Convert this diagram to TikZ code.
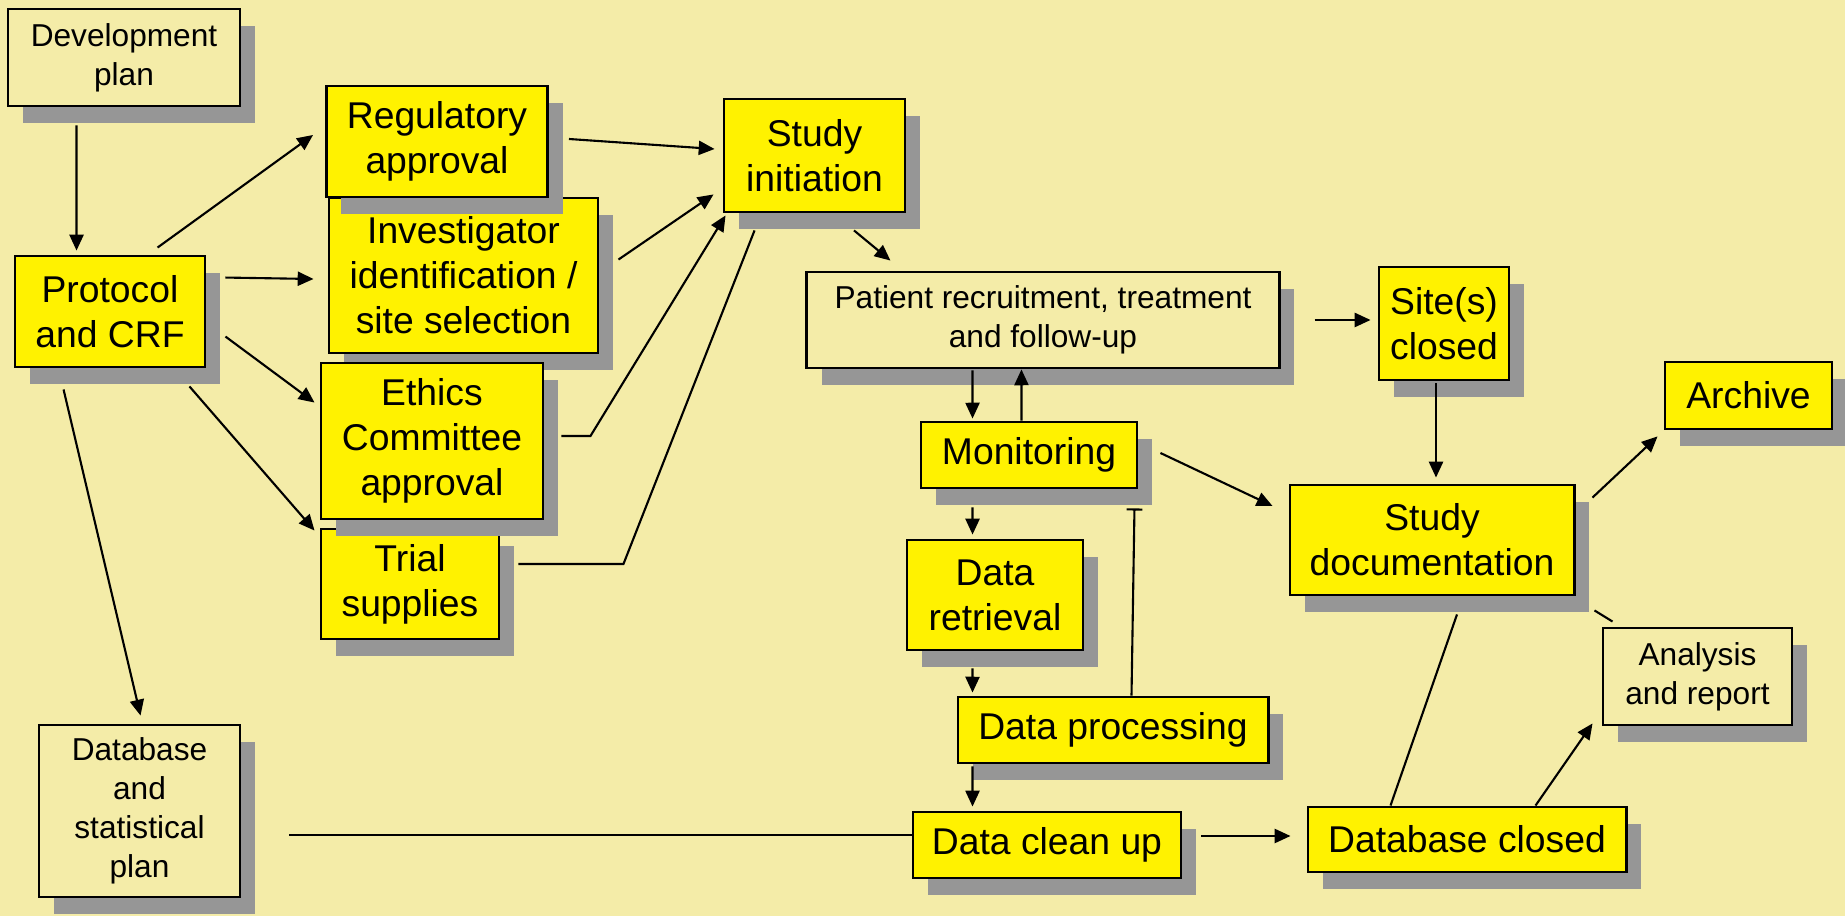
\documentclass[tikz,border=0pt]{standalone}
\usepackage{fontspec}
\setmainfont{Liberation Sans}
\usetikzlibrary{positioning, arrows.meta, shadows, calc}
\definecolor{paper}{HTML}{F4ECA8}
\definecolor{shade}{HTML}{969696}

\begin{document}
\begin{tikzpicture}[
    x=0.01cm, y=-0.01cm,
    box/.style={
        rectangle,
        draw=black,
        line width=0.8pt,
        align=center,
        inner sep=1pt,
        drop shadow={shadow xshift=0.15cm, shadow yshift=-0.17cm, fill=shade, opacity=1}
    },
    task/.style={box, fill=yellow, font=\fontsize{10.6}{12.8}\selectfont},
    plan/.style={box, fill=paper, font=\fontsize{9}{11.1}\selectfont},
    arrow/.style={-{Triangle[length=4.5pt, width=4pt]}, line width=0.6pt},
    link/.style={line width=0.6pt}
]

% background
\fill[paper] (0,0) rectangle (1845,916);
\useasboundingbox (0,0) rectangle (1845,916);

% === Planning column ===
\node[plan, minimum width=2.32cm, minimum height=0.97cm] (dev) at (124,57.5) {Development\\plan};
\node[task, minimum width=1.90cm, minimum height=1.11cm] (prot) at (110,311.5) {Protocol\\and CRF};
\node[plan, minimum width=2.01cm, minimum height=1.72cm] (dbplan) at (139.5,811) {Database\\and\\statistical\\plan};

% === Set-up tasks ===
\node[task, minimum width=2.69cm, minimum height=1.55cm] (inv) at (463.5,275.5) {Investigator\\identification /\\site selection};
\node[task, minimum width=2.21cm, minimum height=1.11cm] (reg) at (437,141.5) {Regulatory\\approval};
\node[task, minimum width=1.78cm, minimum height=1.10cm] (trial) at (410,584) {Trial\\supplies};
\node[task, minimum width=2.22cm, minimum height=1.56cm] (ethics) at (432,441) {Ethics\\Committee\\approval};
\node[task, minimum width=1.81cm, minimum height=1.13cm] (init) at (814.5,155.5) {Study\\initiation};

% === Conduct ===
\node[plan, minimum width=4.72cm, minimum height=0.96cm] (patient) at (1043,320) {Patient recruitment, treatment\\and follow-up};
\node[task, minimum width=2.16cm, minimum height=0.66cm] (mon) at (1029,455) {Monitoring};
\node[task, minimum width=1.76cm, minimum height=1.10cm] (retr) at (995,595) {Data\\retrieval};
\node[task, minimum width=3.10cm, minimum height=0.66cm] (proc) at (1113,730) {Data processing};
\node[task, minimum width=2.68cm, minimum height=0.66cm] (clean) at (1047,845) {Data clean up};

% === Close-out ===
\node[task, minimum width=1.30cm, minimum height=1.13cm] (sites) at (1444,323.5) {Site(s)\\closed};
\node[task, minimum width=2.84cm, minimum height=1.10cm] (doc) at (1432,540) {Study\\documentation};
\node[task, minimum width=1.67cm, minimum height=0.67cm] (archive) at (1748.5,395.5) {Archive};
\node[plan, minimum width=1.89cm, minimum height=0.97cm] (report) at (1697.5,676.5) {Analysis\\and report};
\node[task, minimum width=3.18cm, minimum height=0.65cm] (dbclosed) at (1467,839.5) {Database closed};

% === Connectors ===
\draw[arrow] ($(dev.south west)+(70,18)$) -- ($(prot.north west)+(63,-4)$);
\draw[arrow] ($(prot.north west)+(144,-7)$) -- ($(reg.west)+(-12,-6.5)$);
\draw[arrow] ($(prot.north east)+(19,23)$) -- ($(inv.west)+(-14,3.5)$);
\draw[arrow] ($(prot.north east)+(19,82)$) -- ($(ethics.north west)+(-5,41)$);
\draw[arrow] ($(prot.south east)+(-17,18)$) -- ($(trial.north west)+(-5,3)$);
\draw[arrow] ($(prot.south west)+(50,21)$) -- ($(dbplan.north west)+(103,-8)$);

\draw[arrow] ($(reg.east)+(20,-2.5)$) -- ($(init.west)+(-8,-6.5)$);
\draw[arrow] ($(inv.north east)+(19,63)$) -- ($(init.south west)+(-9,-19)$);
\draw[arrow] ($(ethics.east)+(17,-5)$) -- ++(29,0) -- ($(init.south west)+(3,2)$);
\draw[link] ($(trial.east)+(18,-20)$) -- ++(105,0) -- ($(init.south west)+(32,17)$);

\draw[arrow] ($(init.south)+(39.5,17)$) -- ($(patient.north west)+(85,-10)$);
\draw[arrow] ($(patient.south west)+(167,1)$) -- ($(mon.north west)+(53,-2)$);
\draw[arrow] ($(mon.north west)+(102,0)$) -- ($(patient.south west)+(216,0)$);
\draw[arrow] ($(patient.east)+(34,0)$) -- ($(sites.west)+(-7,-3.5)$);
\draw[arrow] ($(sites.south)+(-8,2)$) -- ($(doc.north)+(4,-6)$);
\draw[arrow] ($(mon.east)+(22,-2)$) -- ($(doc.west)+(-16,-34)$);

\draw[arrow] ($(mon.south west)+(53,18)$) -- ($(retr.north west)+(67,-4)$);
\draw[arrow] ($(retr.south west)+(67,17)$) -- ($(proc.north west)+(16,-3)$);
\draw[-{Bar[width=4.5pt]}, line width=0.6pt] ($(proc.north west)+(175,0)$) -- ($(mon.south east)+(-4,19)$);
\draw[arrow] ($(proc.south west)+(16,2)$) -- ($(clean.north west)+(61,-4)$);

\draw[link] ($(dbplan.east)+(48,24)$) -- ($(clean.west)+(0,-10)$);
\draw[arrow] ($(clean.east)+(19,-9)$) -- ($(dbclosed.west)+(-16,-3.5)$);
\draw[link] ($(dbclosed.north west)+(84,0)$) -- ($(doc.south)+(25,18)$);
\draw[arrow] ($(dbclosed.north west)+(229,0)$) -- ($(report.south west)+(-9,-3)$);
\draw[arrow] ($(doc.north east)+(17,14)$) -- ($(archive.south west)+(-6,6)$);
\draw[link] ($(doc.south east)+(19,14)$) -- ($(report.north west)+(11,-5)$);

\end{tikzpicture}
\end{document}
